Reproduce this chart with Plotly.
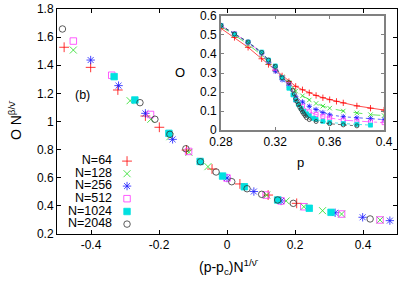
import plotly.graph_objects as go

# ---------------- data: main (scaled) plot ----------------
n_labels = ["N=64", "N=128", "N=256", "N=512", "N=1024", "N=2048"]

x64 = [-0.479, -0.401, -0.321, -0.240, -0.199, -0.119, -0.044, 0.038, 0.121, 0.205]
y64 = [1.528, 1.385, 1.224, 1.039, 0.959, 0.797, 0.662, 0.556, 0.477, 0.418]

x128 = [-0.452, -0.285, -0.224, -0.168, -0.112, -0.056, 0.117, 0.174, 0.226, 0.281, 0.337, 0.450]
y128 = [1.508, 1.148, 1.016, 0.892, 0.781, 0.679, 0.477, 0.435, 0.394, 0.366, 0.342, 0.300]

x256 = [-0.401, -0.319, -0.240, -0.160, 0.000, 0.079, 0.159, 0.318, 0.399, 0.479]
y256 = [1.437, 1.255, 1.058, 0.873, 0.598, 0.502, 0.435, 0.351, 0.319, 0.295]

x512 = [-0.452, -0.339, -0.225, -0.113, 0.000, 0.115, 0.159, 0.226, 0.337, 0.450]
y512 = [1.572, 1.329, 1.050, 0.787, 0.598, 0.477, 0.435, 0.394, 0.342, 0.300]

x1024 = [-0.332, -0.271, -0.171, -0.079, -0.013, 0.051, 0.149, 0.242, 0.306]
y1024 = [1.319, 1.153, 0.916, 0.716, 0.612, 0.536, 0.442, 0.383, 0.354]

x2048 = [-0.484, -0.256, -0.212, -0.168, -0.121, -0.078, -0.032, 0.014, 0.059, 0.102, 0.149, 0.195, 0.421]
y2048 = [1.658, 1.134, 1.016, 0.909, 0.806, 0.714, 0.641, 0.572, 0.522, 0.482, 0.442, 0.418, 0.307]

# ---------------- data: inset (raw) plot ----------------
p64 = [0.28, 0.29, 0.30, 0.31, 0.315, 0.32, 0.325, 0.33, 0.335, 0.34, 0.345, 0.35, 0.355, 0.36, 0.365, 0.37, 0.38, 0.39, 0.40]
o64 = [0.535, 0.487, 0.435, 0.375, 0.345, 0.315, 0.285, 0.255, 0.230, 0.212, 0.196, 0.182, 0.170, 0.160, 0.151, 0.143, 0.127, 0.115, 0.105]

p128 = [0.28, 0.29, 0.30, 0.31, 0.315, 0.32, 0.325, 0.33, 0.335, 0.34, 0.345, 0.35, 0.355, 0.36, 0.37, 0.38, 0.39, 0.40]
o128 = [0.545, 0.500, 0.450, 0.395, 0.355, 0.318, 0.280, 0.250, 0.205, 0.180, 0.158, 0.140, 0.126, 0.115, 0.100, 0.090, 0.081, 0.076]

p256 = [0.28, 0.29, 0.30, 0.31, 0.315, 0.32, 0.325, 0.33, 0.335, 0.34, 0.345, 0.35, 0.355, 0.36, 0.37, 0.38, 0.39, 0.40]
o256 = [0.550, 0.505, 0.460, 0.403, 0.360, 0.310, 0.265, 0.235, 0.175, 0.148, 0.125, 0.108, 0.092, 0.080, 0.070, 0.064, 0.060, 0.055]

p512 = [0.28, 0.29, 0.30, 0.31, 0.315, 0.32, 0.325, 0.33, 0.335, 0.34, 0.345, 0.35, 0.355, 0.36, 0.37, 0.38, 0.39, 0.40]
o512 = [0.550, 0.507, 0.462, 0.407, 0.365, 0.325, 0.275, 0.240, 0.158, 0.125, 0.096, 0.082, 0.072, 0.064, 0.052, 0.046, 0.043, 0.039]

p1024 = [0.28, 0.29, 0.30, 0.31, 0.315, 0.32, 0.325, 0.33, 0.333, 0.335, 0.337, 0.339, 0.341, 0.343, 0.345, 0.348, 0.35, 0.355, 0.36, 0.37, 0.38, 0.39]
o1024 = [0.550, 0.505, 0.463, 0.410, 0.368, 0.337, 0.275, 0.220, 0.185, 0.158, 0.135, 0.115, 0.098, 0.085, 0.075, 0.062, 0.056, 0.046, 0.040, 0.034, 0.030, 0.026]

p2048 = [0.28, 0.29, 0.30, 0.31, 0.315, 0.32, 0.325, 0.33, 0.333, 0.334, 0.335, 0.336, 0.337, 0.338, 0.339, 0.34, 0.341, 0.342, 0.343, 0.345, 0.35, 0.36, 0.37, 0.38]
o2048 = [0.550, 0.505, 0.463, 0.408, 0.368, 0.335, 0.275, 0.250, 0.210, 0.190, 0.165, 0.150, 0.135, 0.120, 0.108, 0.095, 0.085, 0.075, 0.065, 0.055, 0.045, 0.033, 0.027, 0.022]

main_xticks = [-0.4, -0.2, 0, 0.2, 0.4]
main_xtext = ["-0.4", "-0.2", "0", "0.2", "0.4"]
main_yticks = [0.2, 0.4, 0.6, 0.8, 1.0, 1.2, 1.4, 1.6, 1.8]
main_ytext = ["0.2", "0.4", "0.6", "0.8", "1", "1.2", "1.4", "1.6", "1.8"]
inset_xticks = [0.28, 0.32, 0.36, 0.40]
inset_xtext = ["0.28", "0.32", "0.36", "0.4"]
inset_yticks = [0, 0.1, 0.2, 0.3, 0.4, 0.5, 0.6]
inset_ytext = ["0", "0.1", "0.2", "0.3", "0.4", "0.5", "0.6"]

# ---------------- styles ----------------
colors = ["#ff0000", "#22dd22", "#1a1aff", "#ff33ff", "#00e0e0", "#333333"]
symbols = ["cross-thin-open", "x-thin-open", "asterisk-open", "square-open", "square", "circle-open"]
msize = [7, 7, 7, 6.5, 6.5, 6.5]
isize = [4.5, 4.5, 4.5, 4, 4, 4]
dashes = ["solid", "dash", "dot", "dashdot", "dot", "dot"]
FONT = "Liberation Sans, Arial, sans-serif"

main_x = [x64, x128, x256, x512, x1024, x2048]
main_y = [y64, y128, y256, y512, y1024, y2048]
ins_x = [p64, p128, p256, p512, p1024, p2048]
ins_y = [o64, o128, o256, o512, o1024, o2048]

fig = go.Figure()

for i in range(6):
    fig.add_trace(go.Scatter(
        x=main_x[i], y=main_y[i], mode="markers", name=n_labels[i],
        marker=dict(symbol=symbols[i], size=msize[i], color=colors[i],
                    line=dict(width=0.8, color=colors[i])),
        showlegend=False, xaxis="x", yaxis="y"))

for i in range(6):
    fig.add_trace(go.Scatter(
        x=ins_x[i], y=ins_y[i], mode="lines+markers",
        line=dict(color=colors[i], width=0.7, dash=dashes[i]),
        marker=dict(symbol=symbols[i], size=isize[i], color=colors[i],
                    line=dict(width=0.8, color=colors[i])),
        showlegend=False, xaxis="x2", yaxis="y2"))

# legend keys (gnuplot-style: text right-aligned, symbol to the right)
leg_key_x = 0.206
leg_text_x = 0.162
leg_rows = [0.324, 0.268, 0.213, 0.157, 0.100, 0.044]
for i in range(6):
    fig.add_trace(go.Scatter(
        x=[leg_key_x], y=[leg_rows[i]], mode="markers",
        marker=dict(symbol=symbols[i], size=msize[i], color=colors[i],
                    line=dict(width=0.8, color=colors[i])),
        showlegend=False, xaxis="x3", yaxis="y3", hoverinfo="skip"))
fig.add_trace(go.Scatter(
    x=[leg_text_x] * 6, y=leg_rows, mode="text", text=n_labels,
    textposition="middle left", textfont=dict(family=FONT, size=12.5, color="black"),
    showlegend=False, xaxis="x3", yaxis="y3", hoverinfo="skip"))

def ann(x, y, text, size, angle=0):
    return dict(x=x, y=y, xref="paper", yref="paper", text=text, showarrow=False,
                xanchor="center", yanchor="middle", textangle=angle,
                font=dict(family=FONT, size=size, color="black"))

annotations = [
    ann(0.074, 0.616, "(b)", 12.5),
    ann(0.506, -0.148, "(p-p<sub>c</sub>)N<sup>1/ν̄</sup>", 14),
    ann(-0.123, 0.507, "O N<sup>β/ν̄</sup>", 14, -90),
    ann(0.361, 0.716, "O", 13),
    ann(0.715, 0.316, "p", 13),
]

common = dict(showgrid=False, zeroline=False, automargin=False, mirror="ticks", showline=True)

fig.update_layout(
    template="none",
    width=409, height=286,
    margin=dict(l=57, r=12, t=9, b=52, autoexpand=False),
    paper_bgcolor="white", plot_bgcolor="white",
    font=dict(family=FONT, size=12, color="black"),
    xaxis=dict(domain=[0, 1], range=[-0.5, 0.5], tickvals=main_xticks, ticktext=main_xtext,
               ticks="inside", ticklen=4, tickcolor="black", linecolor="black",
               linewidth=1, tickfont=dict(family=FONT, size=12), **common),
    yaxis=dict(domain=[0, 1], range=[0.2, 1.8], tickvals=main_yticks, ticktext=main_ytext,
               ticks="inside", ticklen=4, tickcolor="black", linecolor="black",
               linewidth=1, tickfont=dict(family=FONT, size=12), **common),
    xaxis2=dict(domain=[0.482, 0.962], range=[0.28, 0.40], anchor="y2",
                tickvals=inset_xticks, ticktext=inset_xtext, ticks="inside", ticklen=3,
                tickcolor="#808080", linecolor="#808080", linewidth=1.6,
                tickfont=dict(family=FONT, size=12), **common),
    yaxis2=dict(domain=[0.462, 0.969], range=[0, 0.6], anchor="x2",
                tickvals=inset_yticks, ticktext=inset_ytext, ticks="inside", ticklen=3,
                tickcolor="#808080", linecolor="#808080", linewidth=1.6,
                tickfont=dict(family=FONT, size=12), **common),
    xaxis3=dict(domain=[0, 1], range=[0, 1], anchor="y3", visible=False, overlaying="x"),
    yaxis3=dict(domain=[0, 1], range=[0, 1], anchor="x3", visible=False, overlaying="y"),
    annotations=annotations,
)

fig.write_html("out.html", config={"displayModeBar": False},
               post_script="document.body.style.margin='0';document.body.style.overflow='hidden';")
